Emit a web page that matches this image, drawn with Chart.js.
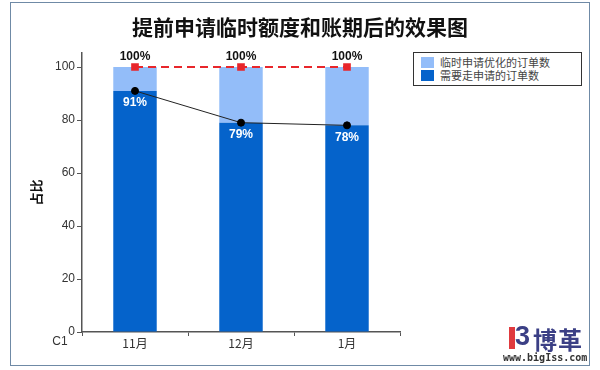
<!DOCTYPE html>
<html>
<head>
<meta charset="utf-8">
<script src="https://cdn.jsdelivr.net/npm/chart.js@4.4.1/dist/chart.umd.min.js"></script>
<style>
  body { margin: 0; background: #fff; }
  #wrap { position: relative; width: 600px; height: 370px; font-family: "Liberation Sans", Arial, sans-serif; }
  #frame { position: absolute; left: 10px; top: 2px; width: 580px; height: 364px; border: 1px solid #6f8aa6; box-sizing: border-box; }
  canvas { position: absolute; left: 0; top: 0; }
  #legend { position: absolute; left: 413px; top: 52px; width: 169px; height: 34px; border: 1px solid #333; box-sizing: border-box; padding: 3px 0 0 7px; background: #fff; }
  .item { height: 13px; line-height: 13px; font-size: 11px; color: #444; font-family: "Noto Sans CJK SC", sans-serif; }
  .sw { display: inline-block; width: 13px; height: 11px; margin-right: 6px; vertical-align: -1px; }
  #logo { position: absolute; left: 506px; top: 322px; }
  #logo .bar { position: absolute; left: 3px; top: 5px; width: 6px; height: 22px; background: #e03a3e; }
  #logo .b3 { position: absolute; left: 9px; top: -1px; font: bold 27px "Liberation Sans", sans-serif; color: #3b3f85; }
  #logo .name { position: absolute; left: 27px; top: -1px; font: bold 24px "Noto Sans CJK SC", sans-serif; color: #3b3f85; white-space: nowrap; letter-spacing: 1px; }
  #logo .url { position: absolute; left: -3px; top: 30px; font: bold 10px "DejaVu Sans Mono", monospace; color: #333; white-space: nowrap; }
</style>
</head>
<body>
<div id="wrap">
  <canvas id="chart" width="600" height="370"></canvas>
  <div id="frame"></div>
  <div id="legend"></div>
  <div id="logo"><div class="bar"></div><div class="b3">3</div><div class="name">博革</div><div class="url">www.bigIss.com</div></div>
</div>
<script>
// chart data
var chartTitle = "提前申请临时额度和账期后的效果图";
var months = ["11月", "12月", "1月"];
var needApply = [91, 79, 78];          // 需要走申请的订单数 (%)
var optimized = [9, 21, 22];           // 临时申请优化的订单数 (%)
var totalLine = [100, 100, 100];
var yTicks = [0, 20, 40, 60, 80, 100];

var darkBlue = "#0563cb",
    lightBlue = "#93bdf9",
    red = "#e8262b";

// title across the whole picture, labels on bars, stray "C1" under the axis
var labelPlugin = {
  id: "labels",
  afterDatasetsDraw: function (chart) {
    var ctx = chart.ctx;
    ctx.save();
    ctx.textAlign = "center";
    ctx.textBaseline = "middle";

    ctx.font = "bold 21px 'Noto Sans CJK SC', sans-serif";
    ctx.fillStyle = "#111";
    ctx.fillText(chartTitle, 300, 27);

    ctx.font = "bold 12px 'Liberation Sans', Arial, sans-serif";
    var dark = chart.getDatasetMeta(0);
    dark.data.forEach(function (bar, i) {
      ctx.fillStyle = "#fff";
      ctx.fillText(needApply[i] + "%", bar.x, bar.y + 12);
    });

    var tot = chart.getDatasetMeta(3);
    tot.data.forEach(function (pt, i) {
      ctx.fillStyle = "#111";
      ctx.fillText(totalLine[i] + "%", pt.x, pt.y - 10);
    });

    ctx.font = "12px 'Liberation Sans', Arial, sans-serif";
    ctx.fillStyle = "#333";
    ctx.fillText("C1", 60, chart.scales.x.top + 10);
    ctx.restore();
  }
};

var myChart = new Chart(document.getElementById("chart").getContext("2d"), {
  type: "bar",
  data: {
    labels: months,
    datasets: [
      { label: "需要走申请的订单数", data: needApply, backgroundColor: darkBlue, stack: "bars", order: 2 },
      { label: "临时申请优化的订单数", data: optimized, backgroundColor: lightBlue, stack: "bars", order: 2 },
      { type: "line", label: "need", data: needApply, stack: "l1", order: 0,
        borderColor: "#222", borderWidth: 1, pointBackgroundColor: "#000", pointBorderColor: "#000",
        pointRadius: 3.5, tension: 0 },
      { type: "line", label: "total", data: totalLine, stack: "l2", order: 1,
        borderColor: red, borderWidth: 2, borderDash: [8, 5], pointStyle: "rect",
        pointBackgroundColor: red, pointBorderColor: red, pointRadius: 4, tension: 0 }
    ]
  },
  options: {
    responsive: false,
    animation: false,
    layout: { padding: { top: 53, left: 20, right: 200, bottom: 0 } },
    datasets: { bar: { barPercentage: 0.41, categoryPercentage: 1.0 } },
    plugins: {
      legend: { display: false },
      tooltip: { enabled: false },
      title: { display: false }
    },
    scales: {
      x: {
        stacked: true,
        border: { color: "#555", width: 1.5 },
        grid: { drawOnChartArea: false, tickLength: 4, color: "#555" },
        ticks: { color: "#333", padding: 0, font: { family: "'Noto Sans CJK SC', sans-serif", size: 12 } },
        afterFit: function (s) { s.height = 38; }
      },
      y: {
        stacked: true,
        min: 0,
        max: 105.3,
        border: { color: "#555", width: 1.5 },
        grid: { drawOnChartArea: false, tickLength: 5, color: "#555" },
        afterBuildTicks: function (axis) {
          axis.ticks = yTicks.map(function (v) { return { value: v }; });
        },
        ticks: { color: "#333", padding: 2, font: { family: "'Liberation Sans', Arial, sans-serif", size: 12 } },
        title: {
          display: true,
          text: "占比",
          color: "#111",
          font: { family: "'Noto Sans CJK SC', sans-serif", size: 13, weight: "bold" },
          padding: { top: 8, bottom: 0 }
        },
        afterFit: function (s) { s.width = 62; }
      }
    }
  },
  plugins: [labelPlugin]
});

// legend built from the bar datasets, light series first like the reference
var legendBox = document.getElementById("legend");
[1, 0].forEach(function (idx) {
  var ds = myChart.data.datasets[idx];
  var row = document.createElement("div");
  row.className = "item";
  row.innerHTML = '<span class="sw" style="background:' + ds.backgroundColor + '"></span>' + ds.label;
  legendBox.appendChild(row);
});
</script>
</body>
</html>
